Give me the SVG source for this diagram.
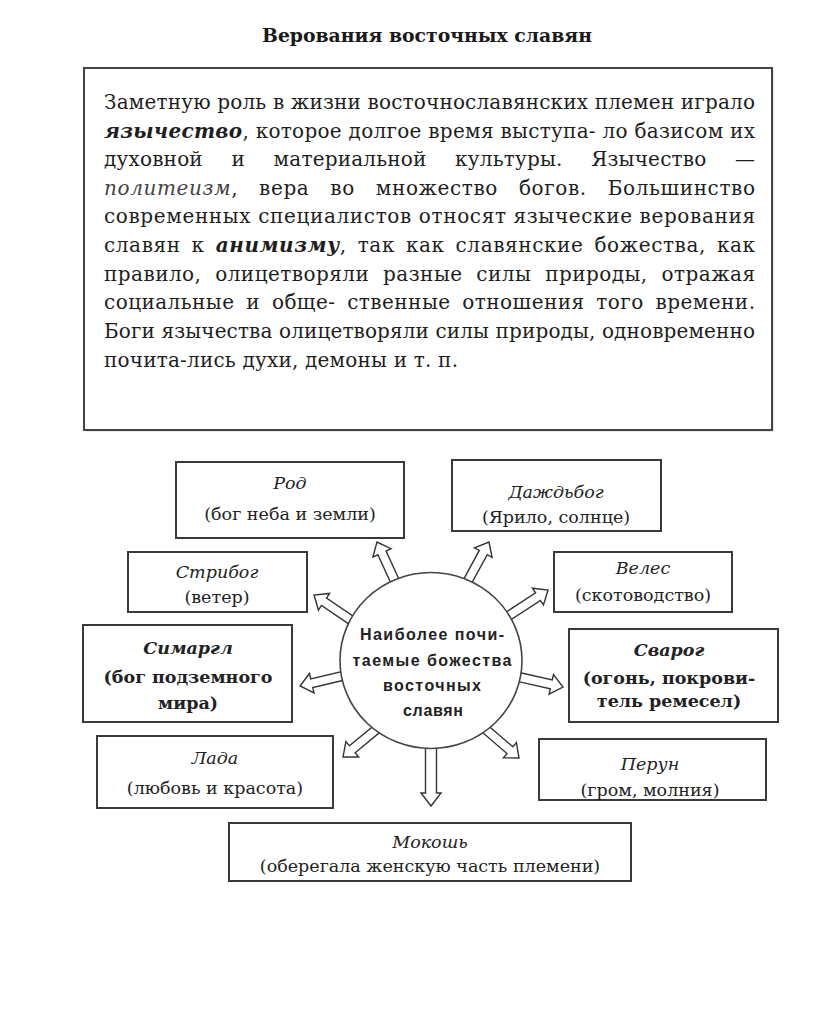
<svg xmlns="http://www.w3.org/2000/svg" width="816" height="1010" viewBox="0 0 816 1010">
<style>
.bx{fill:#fff;stroke:#3a3a3a;stroke-width:2}
.t{font-family:"DejaVu Serif","Liberation Serif",serif;fill:#222;text-anchor:middle;font-size:17.5px}
.n{font-style:italic}
.b{font-weight:bold}
.body{font-family:"DejaVu Serif","Liberation Serif",serif;font-size:20px;fill:#1e1e1e}
.ar{fill:#fff;stroke:#333;stroke-width:1.4;stroke-linejoin:miter}
.ct{font-family:"Liberation Sans","DejaVu Sans",sans-serif;font-size:16px;font-weight:bold;fill:#222;text-anchor:middle}
</style>
<rect width="816" height="1010" fill="#fff"/>
<text x="427" y="42" font-family="DejaVu Serif, Liberation Serif, serif" font-weight="bold" font-size="19" fill="#1a1a1a" text-anchor="middle" textLength="330" lengthAdjust="spacingAndGlyphs">Верования восточных славян</text>
<g id="textbox">
<rect x="86" y="70" width="688" height="362" fill="#d9d9d9" opacity="0.6"/>
<rect x="84" y="68" width="688" height="362" fill="#fff" stroke="#444" stroke-width="2"/>
<text class="body" x="104" y="109" textLength="651" lengthAdjust="spacing">Заметную роль в жизни восточнославянских племен играло</text>
<text class="body" x="104" y="138" textLength="651" lengthAdjust="spacing"><tspan font-weight="bold" font-style="italic">язычество</tspan>, которое долгое время выступа- ло базисом их</text>
<text class="body" x="104" y="166" textLength="651" lengthAdjust="spacing" word-spacing="22">духовной и материальной культуры. Язычество —</text>
<text class="body" x="104" y="195" textLength="651" lengthAdjust="spacing" word-spacing="14"><tspan font-style="italic" fill="#444">политеизм</tspan>, вера во множество богов. Большинство</text>
<text class="body" x="104" y="223" textLength="651" lengthAdjust="spacing">современных специалистов относят языческие верования</text>
<text class="body" x="104" y="252" textLength="651" lengthAdjust="spacing" word-spacing="4">славян к <tspan font-style="italic" font-weight="bold">анимизму</tspan>, так как славянские божества, как</text>
<text class="body" x="104" y="281" textLength="651" lengthAdjust="spacing" word-spacing="7">правило, олицетворяли разные силы природы, отражая</text>
<text class="body" x="104" y="309" textLength="651" lengthAdjust="spacing" word-spacing="5">социальные и обще- ственные отношения того времени.</text>
<text class="body" x="104" y="338" textLength="651" lengthAdjust="spacing">Боги язычества олицетворяли силы природы, одновременно</text>
<text class="body" x="104" y="367" textLength="354" lengthAdjust="spacing">почита-лись духи, демоны и т. п.</text>
</g>
<g id="connectors">
<path class="ar" transform="translate(393,577) rotate(-114.6)" d="M-6,-4.5 H26.5 V-10 L38.5,0 L26.5,10 V4.5 H-6 Z"/>
<path class="ar" transform="translate(348,618) rotate(-145.9)" d="M-6,-4.5 H29 V-10 L41,0 L29,10 V4.5 H-6 Z"/>
<path class="ar" transform="translate(470,577) rotate(-61.5)" d="M-6,-4.5 H27.8 V-10 L39.8,0 L27.8,10 V4.5 H-6 Z"/>
<path class="ar" transform="translate(513,613) rotate(-33.3)" d="M-6,-4.5 H29.9 V-10 L41.9,0 L29.9,10 V4.5 H-6 Z"/>
<path class="ar" transform="translate(338,677) rotate(166.7)" d="M-6,-4.5 H27 V-10 L39,0 L27,10 V4.5 H-6 Z"/>
<path class="ar" transform="translate(523,678) rotate(12.7)" d="M-6,-4.5 H29 V-10 L41,0 L29,10 V4.5 H-6 Z"/>
<path class="ar" transform="translate(372,733) rotate(140.4)" d="M-6,-4.5 H25.6 V-10 L37.6,0 L25.6,10 V4.5 H-6 Z"/>
<path class="ar" transform="translate(490,733) rotate(40.8)" d="M-6,-4.5 H26.3 V-10 L38.3,0 L26.3,10 V4.5 H-6 Z"/>
<path class="ar" transform="translate(431,749) rotate(90)" d="M-6,-5.5 H44 V-10 L57,0 L44,10 V5.5 H-6 Z"/>
</g>
<g id="center">
<ellipse cx="431" cy="660.5" rx="91" ry="88" fill="#fff" stroke="#444" stroke-width="1.6"/>
<text class="ct" x="432" y="640" textLength="144" lengthAdjust="spacing" font-weight="normal" fill="#333">Наиболее почи-</text>
<text class="ct" x="432" y="666" textLength="159" lengthAdjust="spacing">таемые божества</text>
<text class="ct" x="432" y="691" textLength="98" lengthAdjust="spacing">восточных</text>
<text class="ct" x="433" y="716" textLength="60" lengthAdjust="spacing">славян</text>
</g>
<g id="rod">
<rect class="bx" x="176" y="462" width="228" height="76"/>
<text class="t n" x="290" y="489">Род</text>
<text class="t" x="290" y="520">(бог неба и земли)</text>
</g>
<g id="stribog">
<rect class="bx" x="128" y="552" width="179" height="60"/>
<text class="t n" x="217" y="578">Стрибог</text>
<text class="t" x="217" y="603">(ветер)</text>
</g>
<g id="dazhdbog">
<rect class="bx" x="452" y="460" width="209" height="71"/>
<text class="t n" x="556" y="498">Даждьбог</text>
<text class="t" x="556" y="523">(Ярило, солнце)</text>
</g>
<g id="veles">
<rect class="bx" x="554" y="552" width="178" height="60"/>
<text class="t n" x="643" y="574">Велес</text>
<text class="t" x="643" y="601">(скотоводство)</text>
</g>
<g id="simargl">
<rect class="bx" x="83" y="625" width="209" height="97"/>
<text class="t n b" x="188" y="654" font-size="16">Симаргл</text>
<text class="t b" x="188" y="683" font-size="16">(бог подземного</text>
<text class="t b" x="188" y="709" font-size="16">мира)</text>
</g>
<g id="svarog">
<rect class="bx" x="569" y="629" width="209" height="93"/>
<text class="t n b" x="669" y="656" font-size="16">Сварог</text>
<text class="t b" x="669" y="684" font-size="16">(огонь, покрови-</text>
<text class="t b" x="669" y="707" font-size="16">тель ремесел)</text>
</g>
<g id="lada">
<rect class="bx" x="97" y="736" width="236" height="72"/>
<text class="t n" x="215" y="764">Лада</text>
<text class="t" x="215" y="794">(любовь и красота)</text>
</g>
<g id="perun">
<rect class="bx" x="539" y="739" width="227" height="61"/>
<text class="t n" x="650" y="770">Перун</text>
<text class="t" x="650" y="796">(гром, молния)</text>
</g>
<g id="mokosh">
<rect class="bx" x="229" y="823" width="402" height="58"/>
<text class="t n" x="430" y="848">Мокошь</text>
<text class="t" x="430" y="872">(оберегала женскую часть племени)</text>
</g>
</svg>
